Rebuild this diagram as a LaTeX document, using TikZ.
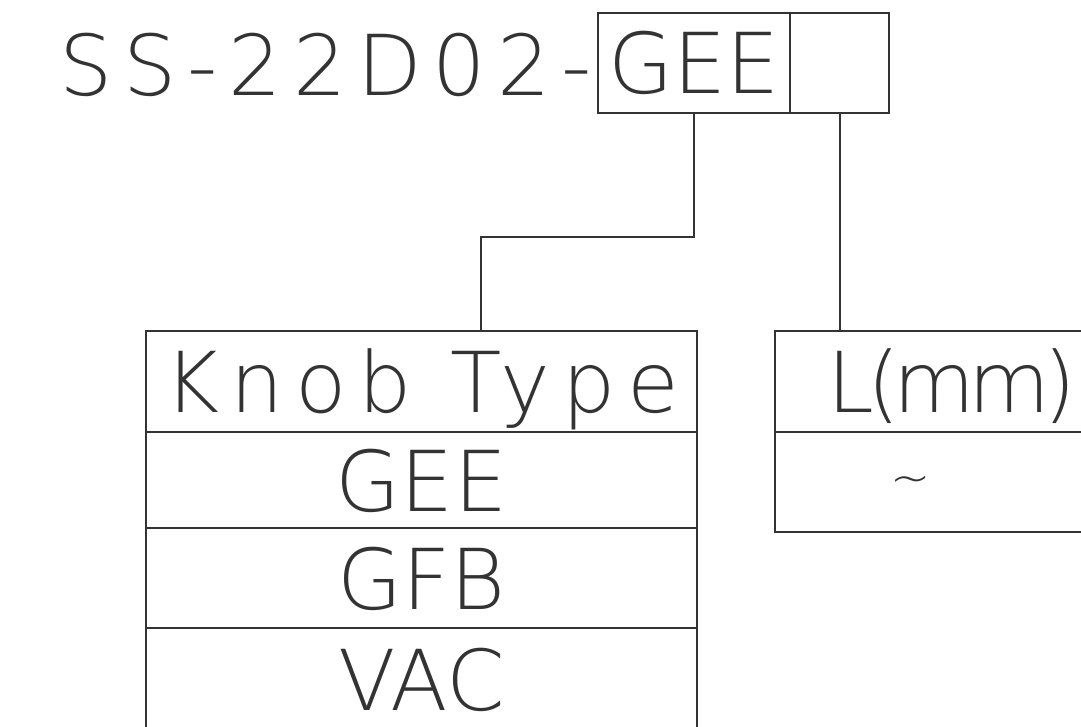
\documentclass[tikz,border=0pt]{standalone}
\usepackage{fontspec}
\newfontfamily\cadfont{DejaVu Sans ExtraLight}
\usetikzlibrary{positioning}

\begin{document}
\begin{tikzpicture}[
  x=0.5pt, y=-0.5pt,
  node distance=0pt,
  line width=1pt,
  leader/.style={draw=black!80},
  cad/.style={font=\cadfont\fontsize{42}{42}\selectfont, text=black!80},
  spaced/.style={font=\cadfont\fontsize{42}{42}\selectfont\addfontfeature{LetterSpace=#1}},
  cell/.style={cad, draw=black!80, inner sep=0pt, outer sep=0pt,
               text height=31pt, text depth=0pt,
               minimum width=#1, minimum height=50pt},
]
\useasboundingbox (0,0) rectangle (1081,727);
\clip (0,0) rectangle (1081,727);

% order code
\node[cad, spaced=13, anchor=base west, inner sep=0pt] (code) at (58,96) {SS-22D02-};
\node[cell=96pt, anchor=north west] (knobcell) at (598,13) {GEE};
\node[cell=49.5pt, right=of knobcell] (lencell) {};

% knob table
\node[cell=275.5pt, spaced=14, anchor=north west, minimum height=50.5pt] (knobhead) at (146,331) {Knob Type};
\node[cell=275.5pt, below=of knobhead, minimum height=48pt] (knobgee) {GEE};
\node[cell=275.5pt, below=of knobgee] (knobgfb) {GFB};
\node[cell=275.5pt, below=of knobgfb, minimum height=51pt] (knobvac) {VAC};

% length table
\node[cell=177pt, spaced=-8, anchor=north west, minimum height=50.5pt] (lenhead) at (775,331) {L(mm)};
\node[cell=177pt, below=of lenhead] (lenrow) {};
\node[cad, inner sep=0pt, font=\cadfont\fontsize{24}{24}\selectfont] (lentilde) at (911,485) {\textasciitilde};

% leaders
\coordinate (knobbend) at (481,237);
\draw[leader] (knobcell.south) |- (knobbend) -- (knobbend |- knobhead.north);
\draw[leader] (lencell.south) -- (lencell.south |- lenhead.north);
\end{tikzpicture}
\end{document}
